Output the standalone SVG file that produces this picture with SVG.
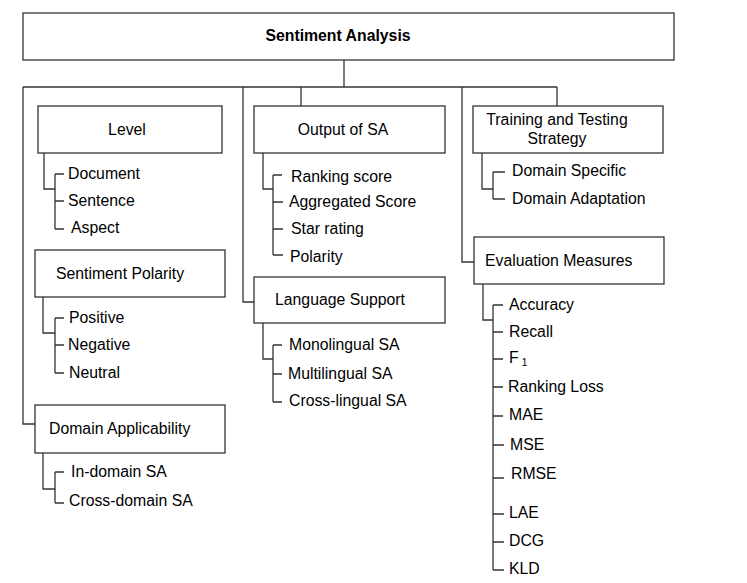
<svg xmlns="http://www.w3.org/2000/svg" width="747" height="583" viewBox="0 0 747 583">
<style>
.box{fill:#fff;stroke:#333;stroke-width:1.3}
.ln{fill:none;stroke:#333;stroke-width:1.3}
text{font-family:"Liberation Sans",Arial,sans-serif;font-size:15.8px;fill:#000;dominant-baseline:central}
.t{font-weight:bold}
.c{text-anchor:middle}
.sub{font-size:10px}
</style>
<rect width="747" height="583" fill="#fff"/>
<g id="connectors">
<path class="ln" d="M344 60V87M23 87H557M23 87V424H35M243 87V302H254M301 87V106M462 87V262H474M557 87V106"/>
<path class="ln" d="M44 153V189H55M55 174V229M55 174H64M55 201H64M55 229H64"/>
<path class="ln" d="M43 297V333H55M55 318V373M55 318H64M55 345H64M55 373H64"/>
<path class="ln" d="M43 453V489H55M55 472V503M55 472H64M55 503H64"/>
<path class="ln" d="M263 153V189H273M273 175V255M273 175H282M273 202H283M273 229H283M273 255H283"/>
<path class="ln" d="M263 323V359H273M273 345V402M273 345H282M273 374H282M273 402H282"/>
<path class="ln" d="M482 153V189H493M493 172V199M493 172H505M493 199H505"/>
<path class="ln" d="M483 284V320H493M493 305V570M493 305H503M493 332H503M493 359H503M493 387H503M493 416H503M493 445H504M493 478H504M493 514H504M493 542H504M493 570H504"/>
</g>
<g id="root"><rect class="box" x="23" y="13" width="651" height="47"/><text class="t c" x="338" y="35.5">Sentiment Analysis</text></g>
<g id="level"><rect class="box" x="38" y="106" width="184" height="47"/><text class="c" x="127" y="129.5">Level</text>
<text x="68" y="173.5">Document</text><text x="68" y="200.5">Sentence</text><text x="71" y="227.5">Aspect</text></g>
<g id="polarity"><rect class="box" x="35" y="250" width="190" height="47"/><text class="c" x="120" y="273.5">Sentiment Polarity</text>
<text x="69" y="317.5">Positive</text><text x="68" y="344.5">Negative</text><text x="69" y="372.5">Neutral</text></g>
<g id="domain"><rect class="box" x="35" y="405" width="190" height="48"/><text x="49" y="428.5">Domain Applicability</text>
<text x="71" y="471.5">In-domain SA</text><text x="69" y="500.5">Cross-domain SA</text></g>
<g id="output"><rect class="box" x="254" y="106" width="191" height="47"/><text class="c" x="343" y="129.5">Output of SA</text>
<text x="291" y="176.5">Ranking score</text><text x="289" y="201.5">Aggregated Score</text><text x="291" y="228.5">Star rating</text><text x="290" y="256.5">Polarity</text></g>
<g id="language"><rect class="box" x="254" y="277" width="191" height="46"/><text x="275" y="299.5">Language Support</text>
<text x="289" y="344.5">Monolingual SA</text><text x="288" y="373.5">Multilingual SA</text><text x="289" y="400.5">Cross-lingual SA</text></g>
<g id="training"><rect class="box" x="473" y="106" width="190" height="47"/><text class="c" x="557" y="119.5">Training and Testing</text><text class="c" x="557" y="138.5">Strategy</text>
<text x="512" y="170.5">Domain Specific</text><text x="512" y="198.5">Domain Adaptation</text></g>
<g id="evaluation"><rect class="box" x="474" y="237" width="190" height="47"/><text x="485" y="260.5">Evaluation Measures</text>
<text x="509" y="304.5">Accuracy</text><text x="509" y="331.5">Recall</text><text x="509" y="357.5">F<tspan class="sub" dx="3" dy="4">1</tspan></text>
<text x="508" y="386.5">Ranking Loss</text><text x="509" y="414.5">MAE</text><text x="510" y="444.5">MSE</text><text x="511" y="473.5">RMSE</text>
<text x="509" y="512.5">LAE</text><text x="509" y="540.5">DCG</text><text x="509" y="568.5">KLD</text></g>
</svg>
